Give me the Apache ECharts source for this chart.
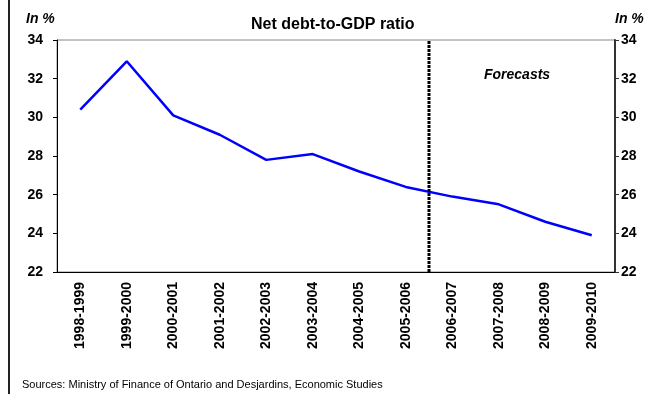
<!DOCTYPE html>
<html>
<head>
<meta charset="utf-8">
<script src="https://cdn.jsdelivr.net/npm/echarts@6/dist/echarts.min.js"></script>
<style>
  html, body { margin: 0; padding: 0; background: #fff; }
  #chart { width: 656px; height: 394px; }
</style>
</head>
<body>
<div id="chart"></div>
<script>
const FONT = 'Liberation Sans, Arial, sans-serif'

const years = ['1998-1999', '1999-2000', '2000-2001', '2001-2002', '2002-2003', '2003-2004',
  '2004-2005', '2005-2006', '2006-2007', '2007-2008', '2008-2009', '2009-2010']
const debtRatio = [30.4, 32.9, 30.1, 29.1, 27.8, 28.1, 27.2, 26.4, 25.9, 25.5, 24.6, 23.9]
// forecasts start after the 8th fiscal year
const forecastLine = [[8, 22], [8, 34]]

const chart = echarts.init(document.getElementById('chart'))

const yAxisBase = {
  type: 'value', min: 22, max: 34, interval: 2,
  splitLine: { show: false },
  axisTick: { show: true, length: 4, lineStyle: { color: '#000' } },
  axisLabel: { color: '#000', fontFamily: FONT, fontSize: 14, fontWeight: 'bold', margin: 14 },
}

chart.setOption({
  animation: false,
  backgroundColor: '#fff',
  grid: {
    left: 57, right: 41, top: 40, bottom: 122,
    show: true, borderColor: '#888', borderWidth: 1,
  },
  xAxis: [
    {
      type: 'category', data: years, boundaryGap: true,
      axisLine: { lineStyle: { color: '#000', width: 1 } },
      axisTick: { show: false },
      axisLabel: {
        rotate: 90, interval: 0, margin: 10, color: '#000',
        fontFamily: FONT, fontSize: 14, fontWeight: 'bold',
      },
    },
    { type: 'value', min: 0, max: 12, show: false },
  ],
  yAxis: [
    {
      ...yAxisBase, position: 'left',
      axisLine: { show: true, lineStyle: { color: '#000', width: 1 } },
    },
    {
      ...yAxisBase, position: 'right',
      axisLine: { show: true, lineStyle: { color: '#333', width: 2 } },
      axisTick: { show: true, length: 4, lineStyle: { color: '#333' } },
      axisLabel: { ...yAxisBase.axisLabel, margin: 6 },
    },
  ],
  series: [
    {
      type: 'line', data: debtRatio,
      xAxisIndex: 0, yAxisIndex: 0,
      symbol: 'none',
      lineStyle: { color: '#0000ff', width: 2.5 },
    },
    {
      type: 'line', data: forecastLine,
      xAxisIndex: 1, yAxisIndex: 0,
      symbol: 'none',
      lineStyle: { color: '#000', width: 3, type: [3, 1] },
      z: 3,
    },
  ],
  graphic: [
    { type: 'rect', left: 8, top: 0, shape: { width: 2, height: 394 }, style: { fill: '#222' } },
    {
      type: 'text', left: 251, top: 17,
      style: { text: 'Net debt-to-GDP ratio', font: `bold 16px ${FONT}`, fill: '#000' },
    },
    {
      type: 'text', left: 26, top: 12,
      style: { text: 'In %', font: `italic bold 14px ${FONT}`, fill: '#000' },
    },
    {
      type: 'text', left: 615, top: 12,
      style: { text: 'In %', font: `italic bold 14px ${FONT}`, fill: '#000' },
    },
    {
      type: 'text', left: 484, top: 68,
      style: { text: 'Forecasts', font: `italic bold 14px ${FONT}`, fill: '#000' },
    },
    {
      type: 'text', left: 22, top: 379,
      style: {
        text: 'Sources: Ministry of Finance of Ontario and Desjardins, Economic Studies',
        font: `11px ${FONT}`, fill: '#000',
      },
    },
  ],
})
</script>
</body>
</html>
